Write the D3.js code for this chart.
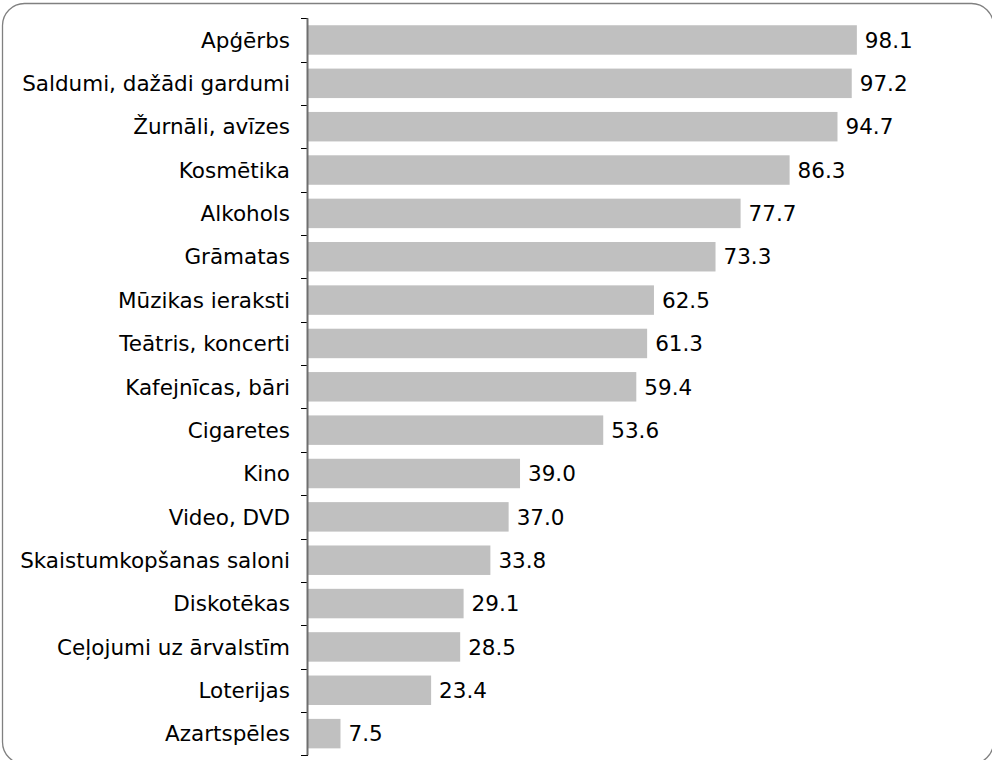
<!DOCTYPE html>
<html>
<head>
<meta charset="utf-8">
<script src="https://cdn.jsdelivr.net/npm/d3@7"></script>
<style>
html,body{margin:0;padding:0;background:#fff;}
svg{display:block;}
</style>
</head>
<body>
<svg id="chart" width="992" height="760"></svg>
<script>
const categories = [
  "Apģērbs",
  "Saldumi, dažādi gardumi",
  "Žurnāli, avīzes",
  "Kosmētika",
  "Alkohols",
  "Grāmatas",
  "Mūzikas ieraksti",
  "Teātris, koncerti",
  "Kafejnīcas, bāri",
  "Cigaretes",
  "Kino",
  "Video, DVD",
  "Skaistumkopšanas saloni",
  "Diskotēkas",
  "Ceļojumi uz ārvalstīm",
  "Loterijas",
  "Azartspēles"
];
const values = [98.1, 97.2, 94.7, 86.3, 77.7, 73.3, 62.5, 61.3, 59.4, 53.6, 39.0, 37.0, 33.8, 29.1, 28.5, 23.4, 7.5];

const svg = d3.select("#chart");
const font = "'DejaVu Sans', Verdana, sans-serif";
const fs = 21.5;

// frame
svg.append("rect")
  .attr("x", 2.5).attr("y", 3.5)
  .attr("width", 991).attr("height", 760.5)
  .attr("rx", 22).attr("ry", 22)
  .attr("fill", "#fff")
  .attr("stroke", "#808080").attr("stroke-width", 1.3);

const x = d3.scaleLinear().domain([1.8, 100]).range([308, 867.7]);
const y = d3.scaleBand().domain(categories).range([18.3, 755.3]).paddingInner(0.32).paddingOuter(0.16);

// bars
svg.append("g").selectAll("rect")
  .data(categories)
  .join("rect")
  .attr("x", x(1.8))
  .attr("y", d => y(d))
  .attr("width", (d, i) => x(values[i]) - x(1.8))
  .attr("height", y.bandwidth())
  .attr("fill", "#c0c0c0");

// value labels
svg.append("g").selectAll("text")
  .data(categories)
  .join("text")
  .attr("x", (d, i) => x(values[i]) + 8)
  .attr("y", d => y(d) + y.bandwidth() / 2)
  .attr("dy", "0.36em")
  .attr("font-family", font)
  .attr("font-size", fs)
  .attr("fill", "#000")
  .text((d, i) => values[i].toFixed(1));

// category axis
const step = (755.3 - 18.3) / categories.length;
const tickPos = d3.range(categories.length + 1).map(i => 18.3 + i * step);
const axisG = svg.append("g");
axisG.selectAll("line.tick")
  .data(tickPos)
  .join("line")
  .attr("class", "tick")
  .attr("x1", 301).attr("x2", 308)
  .attr("y1", d => Math.round(d) + 0.5).attr("y2", d => Math.round(d) + 0.5)
  .attr("stroke", "#000").attr("stroke-width", 1);
axisG.append("line")
  .attr("x1", 307.5).attr("x2", 307.5)
  .attr("y1", 18.3).attr("y2", 755.3)
  .attr("stroke", "#6e6e6e").attr("stroke-width", 2);

axisG.selectAll("text")
  .data(categories)
  .join("text")
  .attr("x", 290)
  .attr("y", d => y(d) + y.bandwidth() / 2)
  .attr("dy", "0.36em")
  .attr("text-anchor", "end")
  .attr("font-family", font)
  .attr("font-size", fs)
  .attr("fill", "#000")
  .text(d => d);
</script>
</body>
</html>
